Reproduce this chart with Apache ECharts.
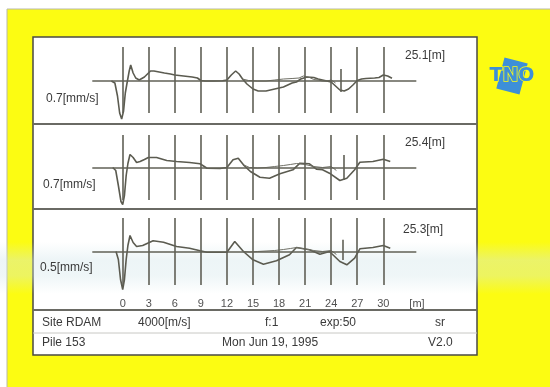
<!DOCTYPE html>
<html>
<head>
<meta charset="utf-8">
<script src="https://cdn.jsdelivr.net/npm/echarts@6/dist/echarts.min.js"></script>
<style>
  html, body { margin: 0; padding: 0; background: #ffffff; }
  #chart { width: 550px; height: 387px; }
</style>
</head>
<body>
<div id="chart"></div>
<script>
// Depth markers along the pile, in metres
const depthMarks = [0, 3, 6, 9, 12, 15, 18, 21, 24, 27, 30];
// Pile toe depth found for each trace, in metres
const pileLengths = [25.1, 25.4, 25.3];
// Velocity scale of each trace
const velocityScales = ['0.7[mm/s]', '0.7[mm/s]', '0.5[mm/s]'];

// Trace 1: [depth m, velocity (plot units)]
const trace1Main = [
  [-1.3, 0], [-0.9, -2], [-0.6, -15], [-0.35, -32], [-0.12, -38], [0.1, -30], [0.3, -12],
  [0.5, -2], [0.75, 10], [0.92, 16], [1.2, 8], [1.5, 3], [1.9, 1], [2.5, 4], [3.2, 10],
  [3.6, 10], [4.2, 9], [4.8, 8], [5.5, 7], [6.0, 6], [6.5, 5.5], [7.0, 5], [7.5, 4.5],
  [8.0, 4], [8.6, 3], [9.0, 0.5], [9.5, 0], [10.5, 0], [11.5, 0.3], [12.0, 1], [12.5, 6],
  [13.0, 10], [13.4, 7], [13.8, 2], [14.3, -3], [15.0, -8], [15.6, -10], [16.5, -10],
  [17.5, -8], [18.5, -6], [19.0, -4], [19.5, -2], [20.0, -1], [20.5, 2], [21.2, 4],
  [22.0, 3.5], [22.5, 2], [23.0, 1], [23.5, 0], [24.0, -1], [24.5, -5], [25.0, -9],
  [25.5, -10], [26.0, -8], [26.5, -4], [27.0, 0.5], [27.5, 2], [28.0, 2.5], [29.0, 3],
  [29.5, 3.5], [30.0, 6], [30.5, 5], [31.0, 2.7]
];
const trace1Aux = [
  [13.8, 2], [14.5, 0.5], [15.5, 0], [16.5, 0], [17.5, 1], [18.5, 2], [19.5, 2.5],
  [20.3, 3], [20.8, 5], [21.5, 3.5], [22.0, 1.5], [22.5, 1], [23.0, 0], [23.5, 0],
  [24.0, 1], [24.5, -2]
];

// Trace 2
const trace2Main = [
  [-1.15, 0], [-0.8, -3], [-0.5, -18], [-0.2, -34], [0.0, -37], [0.2, -28], [0.4, -8],
  [0.6, 4], [0.84, 13], [1.2, 10], [1.6, 5], [2.0, 6], [2.5, 8], [2.95, 10], [3.9, 10],
  [5.07, 7], [6.2, 6], [7.7, 5], [8.9, 3.7], [9.7, -0.7], [11.2, -1], [12.0, 0],
  [12.7, 7.7], [13.3, 9.3], [13.9, 2.7], [14.7, -4], [15.8, -9.7], [16.9, -10.7],
  [18.1, -6.3], [19.6, -2.3], [20.4, 4.3], [21.5, 3.7], [22.3, -1.7], [23.0, -2.3],
  [23.8, -5.7], [25.0, -13], [25.8, -10.7], [26.7, -2.3], [27.3, 5.3], [28.8, 6],
  [30.0, 8.3], [30.8, 6]
];
const trace2Aux = [
  [13.9, 2.7], [14.6, 0], [15.5, -0.5], [16.5, 0], [17.5, 1], [18.5, 2], [19.3, 3],
  [20.0, 4], [21.0, 3], [22.0, 1], [23.0, 0], [24.0, 1], [24.6, -3]
];

// Trace 3
const trace3Main = [
  [-0.77, 0], [-0.5, -8], [-0.25, -28], [0.0, -38], [0.2, -28], [0.4, -8], [0.6, 6],
  [0.84, 16], [1.2, 9], [1.6, 5], [2.3, 6], [3.5, 10.7], [4.7, 9.3], [6.2, 5], [7.7, 3.3],
  [8.9, 0.7], [9.7, -0.7], [12.0, -0.7], [12.9, 10], [13.9, 0], [15.0, -8.3], [16.2, -12.7],
  [17.7, -9.3], [19.2, -3.3], [20.0, 4], [21.5, 1.7], [22.7, -2.7], [23.8, 0], [25.0, -10],
  [25.8, -13.3], [26.7, -6.7], [27.3, 2.7], [28.8, 4], [30.0, 6], [30.8, 3.3]
];
const trace3Aux = [
  [13.9, 0], [14.6, -0.5], [15.5, 0], [16.5, 0.5], [17.5, 1], [18.5, 2], [19.3, 3],
  [20.0, 4], [21.0, 2.5], [22.0, 1], [23.0, 0], [24.0, 1], [24.6, -3]
];

const traces = [
  { main: trace1Main, aux: trace1Aux },
  { main: trace2Main, aux: trace2Aux },
  { main: trace3Main, aux: trace3Aux }
];

// Layout of the three trace strips (pixels)
const PX_PER_M = 8.687;
const X_MIN = -6, X_MAX = 36;
const ZERO_X = 122.7;
const gridLeft = ZERO_X + X_MIN * PX_PER_M;
const gridWidth = (X_MAX - X_MIN) * PX_PER_M;
const strips = [
  { top: 47, height: 66, min: -32, max: 34 },
  { top: 135, height: 65, min: -32.5, max: 32.5 },
  { top: 218, height: 67, min: -33.5, max: 33.5 }
];
const toeSpikes = [[12, -11], [12.5, -12.5], [11.7, -8.5]];

const INK = '#5b5b50';
const TEXT = '#3a3a3a';
const YELLOW = '#fcfc12';
const FONT = '"Liberation Sans", Arial, sans-serif';

const grids = strips.map(s => ({
  left: gridLeft, width: gridWidth, top: s.top, height: s.height, containLabel: false
}));

const xAxes = strips.map((s, i) => ({
  type: 'value', gridIndex: i, min: X_MIN, max: X_MAX, interval: 3,
  axisLine: { show: false }, axisTick: { show: false }, splitLine: { show: false },
  axisLabel: {
    show: i === 2, margin: 13, color: '#505050', fontFamily: FONT, fontSize: 11,
    formatter: v => (depthMarks.indexOf(v) >= 0 ? String(v) : '')
  }
}));

const yAxes = strips.map((s, i) => ({
  type: 'value', gridIndex: i, min: s.min, max: s.max, show: false,
  splitLine: { show: false }
}));

const series = [];
traces.forEach((t, i) => {
  series.push({
    type: 'line', xAxisIndex: i, yAxisIndex: i, data: t.main,
    showSymbol: false, clip: false, animation: false, silent: true,
    lineStyle: { color: INK, width: 1.6 },
    markLine: {
      silent: true, symbol: ['none', 'none'], animation: false,
      label: { show: false },
      lineStyle: { color: '#606056', width: 1.6, type: 'solid' },
      data: depthMarks.map(d => ({ xAxis: d })).concat([
        [{ coord: [-3.5, 0] }, { coord: [33.8, 0] }],
        [{ coord: [pileLengths[i], toeSpikes[i][0]] }, { coord: [pileLengths[i], toeSpikes[i][1]] }]
      ])
    }
  });
  series.push({
    type: 'line', xAxisIndex: i, yAxisIndex: i, data: t.aux,
    showSymbol: false, clip: false, animation: false, silent: true,
    lineStyle: { color: '#707066', width: 1 }
  });
});

const textStyle = (extra) => Object.assign({ fill: TEXT, font: '12px ' + FONT }, extra);
const txt = (x, y, text, extra) => ({ type: 'text', z: 3, x: x, y: y,
  style: textStyle(Object.assign({ text: text, verticalAlign: 'middle' }, extra || {})) });

const graphic = [
  // yellow sheet
  { type: 'rect', z: -10, shape: { x: 7, y: 9, width: 560, height: 400 },
    style: { fill: YELLOW, stroke: '#b8b8a8', lineWidth: 1 } },
  // white report panel
  { type: 'rect', z: -9, shape: { x: 33, y: 37, width: 444, height: 318 },
    style: { fill: '#ffffff', stroke: '#4a4a44', lineWidth: 1.5 } },
  // strip separators
  { type: 'line', z: -8, shape: { x1: 33, y1: 124, x2: 477, y2: 124 }, style: { stroke: '#6a6a64', lineWidth: 2 } },
  { type: 'line', z: -8, shape: { x1: 33, y1: 209, x2: 477, y2: 209 }, style: { stroke: '#6a6a64', lineWidth: 2 } },
  { type: 'line', z: -8, shape: { x1: 33, y1: 310, x2: 477, y2: 310 }, style: { stroke: '#6a6a64', lineWidth: 2 } },
  { type: 'line', z: -8, shape: { x1: 33, y1: 333, x2: 477, y2: 333 }, style: { stroke: '#c8c8c4', lineWidth: 1 } },
  // pale scanner streak across the lower strip
  { type: 'rect', z: 1, silent: true, shape: { x: 0, y: 242, width: 550, height: 52 },
    style: { fill: new echarts.graphic.LinearGradient(0, 0, 0, 1, [
      { offset: 0, color: 'rgba(210,230,234,0)' },
      { offset: 0.35, color: 'rgba(210,230,234,0.4)' },
      { offset: 0.65, color: 'rgba(210,230,234,0.36)' },
      { offset: 1, color: 'rgba(210,230,234,0)' }
    ]) } },
  // length and scale labels
  txt(405, 56, pileLengths[0].toFixed(1) + '[m]'),
  txt(405, 143, pileLengths[1].toFixed(1) + '[m]'),
  txt(403, 230, pileLengths[2].toFixed(1) + '[m]'),
  txt(46, 99, velocityScales[0]),
  txt(43, 185, velocityScales[1]),
  txt(40, 268, velocityScales[2]),
  txt(417, 304, '[m]', { fill: '#505050', font: '11px ' + FONT, align: 'center' }),
  // footer
  txt(42, 323, 'Site RDAM'),
  txt(138, 323, '4000[m/s]'),
  txt(265, 323, 'f:1'),
  txt(320, 323, 'exp:50'),
  txt(435, 323, 'sr'),
  txt(42, 343, 'Pile 153'),
  txt(222, 343, 'Mon Jun 19, 1995'),
  txt(428, 343, 'V2.0'),
  // TNO logo
  { type: 'rect', x: 512, y: 76, rotation: -0.26,
    shape: { x: -12, y: -16, width: 24, height: 32 }, style: { fill: '#3d8fd8' } },
  { type: 'text', x: 512, y: 76, style: { text: 'TNO', fill: '#3d8fd8', stroke: YELLOW, lineWidth: 1.5,
      font: '900 19px "DejaVu Sans", sans-serif', align: 'center', verticalAlign: 'middle' } }
];

const chart = echarts.init(document.getElementById('chart'), null, { renderer: 'canvas' });
chart.setOption({
  animation: false,
  backgroundColor: '#ffffff',
  grid: grids,
  xAxis: xAxes,
  yAxis: yAxes,
  series: series,
  graphic: graphic
});
</script>
</body>
</html>
